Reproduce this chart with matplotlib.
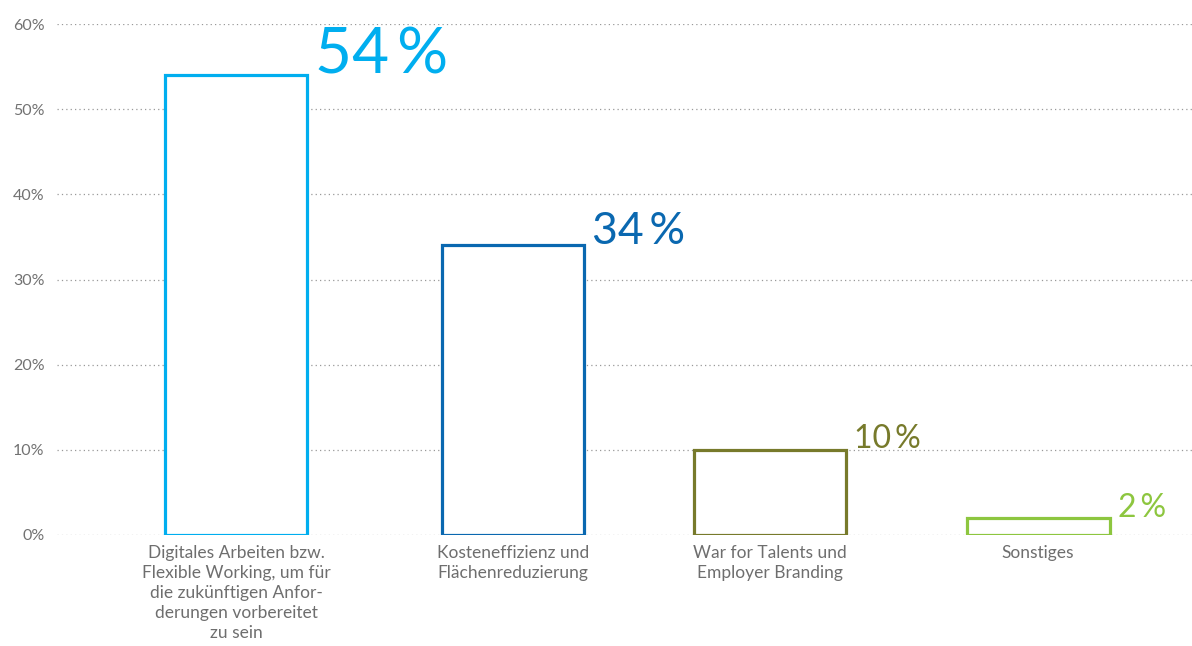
import matplotlib
matplotlib.use("Agg")
import matplotlib.pyplot as plt

# survey answers
categories = [
    "Digitales Arbeiten bzw.\nFlexible Working, um für\ndie zukünftigen Anfor-\nderungen vorbereitet\nzu sein",
    "Kosteneffizienz und\nFlächenreduzierung",
    "War for Talents und\nEmployer Branding",
    "Sonstiges",
]
shares = [54, 34, 10, 2]
bar_colors = ["#00aeef", "#0a68b0", "#777a2b", "#8dc63f"]
label_sizes = [46, 32, 23, 23]
y_ticks = [0, 10, 20, 30, 40, 50, 60]

# bar centres / widths in pixels from the left end of the grid
bar_x = [179, 456, 713, 981]
bar_w = [142, 142, 152, 143]

plt.rcParams["font.family"] = ["Lato", "DejaVu Sans"]

fig = plt.figure(figsize=(11.92, 6.46), dpi=100)
ax = fig.add_axes([57 / 1192, 111 / 646, 1135 / 1192, 511 / 646])

ax.bar(bar_x, shares, width=bar_w, facecolor="white", edgecolor=bar_colors,
       linewidth=2.3, zorder=3)

for xi, w, v, c, fs in zip(bar_x, bar_w, shares, bar_colors, label_sizes):
    ax.annotate(f"{v}\u2009%", xy=(xi + w / 2, v), xytext=(6, 1),
                textcoords="offset points", ha="left", va="baseline",
                fontsize=fs, color=c, annotation_clip=False)

ax.set_xlim(0, 1135)
ax.set_ylim(0, 60)
ax.set_yticks(y_ticks)
ax.set_yticklabels([f"{t}%" for t in y_ticks], color="#727272", fontsize=11.5)
ax.tick_params(axis="y", length=0, pad=9)
ax.set_xticks(bar_x)
ax.set_xticklabels(categories, color="#6e6e6e", fontsize=12.5, linespacing=1.32,
                   va="top")
ax.tick_params(axis="x", length=0, pad=7)

ax.grid(axis="y", linestyle=(0, (1, 2.5)), color="#999999", linewidth=0.9,
        zorder=0)
for s in ax.spines.values():
    s.set_visible(False)

fig.savefig("out.png", dpi=100)
